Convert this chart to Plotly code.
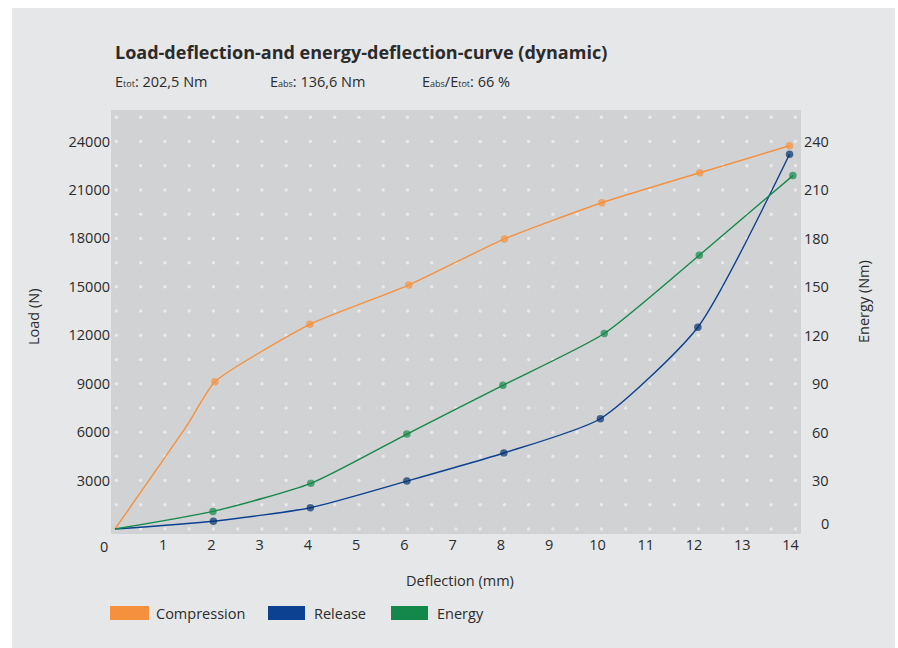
import numpy as np
import plotly.graph_objects as go

# ---------------- data ----------------
comp_x = [0, 1.49, 2.07, 4.04, 6.09, 8.07, 10.09, 12.12, 13.98]
comp_y = [0, 6400, 9120, 12680, 15110, 17970, 20210, 22070, 23740]
comp_marked = [0, 0, 1, 1, 1, 1, 1, 1, 1]

rel_x = [0, 2.04, 4.05, 6.05, 8.06, 10.06, 12.08, 13.98]
rel_y = [0, 480, 1320, 2970, 4710, 6830, 12500, 23210]
rel_marked = [0, 1, 1, 1, 1, 1, 1, 1]

en_x = [0, 2.03, 4.06, 6.05, 8.04, 10.14, 12.11, 14.05]
en_y = [0, 10.9, 28.3, 58.8, 89.0, 121.1, 169.6, 218.9]
en_marked = [0, 1, 1, 1, 1, 1, 1, 1]

x_ticks = list(range(1, 15))
load_ticks = [3000, 6000, 9000, 12000, 15000, 18000, 21000, 24000]
energy_ticks = [30, 60, 90, 120, 150, 180, 210, 240]

title_text = "Load-deflection-and energy-deflection-curve (dynamic)"
sub_texts = ["E<span style='font-size:9px'>tot</span>: 202,5 Nm",
             "E<span style='font-size:9px'>abs</span>: 136,6 Nm",
             "E<span style='font-size:9px'>abs</span>/E<span style='font-size:9px'>tot</span>: 66 %"]
legend_names = ["Compression", "Release", "Energy"]

# ---------------- styling ----------------
ORANGE = "#f5913e"
BLUE = "#0b4190"
BLUE_M = "#04306e"
GREEN = "#14884a"
TXT = "#2b2b2b"
FONT = "Open Sans"
PANEL = "#e6e7e9"
PLOTBG = "#d1d2d4"
FS = 14.5

W, H = 898, 648
L, R, T, B = 111, 801, 110, 534  # plot area in px


def px(xp):
    return (xp - L) / (R - L)


def py(yp):
    return (B - yp) / (B - T)


fig = go.Figure()

# background dot texture
dot_x = 0.03 + 0.5026 * np.arange(29)
dot_y = np.arange(0, 25501, 1500)
gx, gy = np.meshgrid(dot_x, dot_y)
fig.add_trace(go.Scatter(x=gx.ravel(), y=gy.ravel(), mode="markers",
                         marker=dict(size=3.5, color="#e9e9eb", line=dict(width=0)),
                         hoverinfo="skip", showlegend=False))


def sizes(flags, s):
    return [s if f else 0 for f in flags]


fig.add_trace(go.Scatter(x=comp_x, y=comp_y, mode="lines+markers", name=legend_names[0],
                         line=dict(color=ORANGE, width=1.4, shape="spline", smoothing=0.5),
                         marker=dict(color=ORANGE, size=sizes(comp_marked, 7.5), line=dict(width=0)),
                         showlegend=False))
fig.add_trace(go.Scatter(x=rel_x, y=rel_y, mode="lines+markers", name=legend_names[1],
                         line=dict(color=BLUE, width=1.4, shape="spline", smoothing=0.6),
                         marker=dict(color=BLUE_M, size=sizes(rel_marked, 7.5), line=dict(width=0)),
                         showlegend=False))
fig.add_trace(go.Scatter(x=en_x, y=en_y, mode="lines+markers", name=legend_names[2], yaxis="y2",
                         line=dict(color=GREEN, width=1.4, shape="spline", smoothing=0.6),
                         marker=dict(color=GREEN, size=sizes(en_marked, 7.5), line=dict(width=0)),
                         showlegend=False))

x_range = [-0.082, 14.218]
y_range = [-310, 25955]
y2_range = [y_range[0] / 100, y_range[1] / 100]

annotations = []
annotations.append(dict(text="<b>" + title_text + "</b>", x=px(113), y=py(52), xref="paper", yref="paper",
                        xanchor="left", yanchor="middle", showarrow=False,
                        font=dict(family=FONT, size=18, color=TXT)))
for t, xx in zip(sub_texts, [113, 268, 420]):
    annotations.append(dict(text=t, x=px(xx), y=py(82), xref="paper", yref="paper",
                            xanchor="left", yanchor="middle", showarrow=False,
                            font=dict(family=FONT, size=FS, color=TXT)))
annotations.append(dict(text="Load (N)", x=px(33), y=py(317), xref="paper", yref="paper",
                        textangle=-90, showarrow=False, xanchor="center", yanchor="middle",
                        font=dict(family=FONT, size=FS, color=TXT)))
annotations.append(dict(text="Energy (Nm)", x=px(863), y=py(302), xref="paper", yref="paper",
                        textangle=-90, showarrow=False, xanchor="center", yanchor="middle",
                        font=dict(family=FONT, size=FS, color=TXT)))
annotations.append(dict(text="Deflection (mm)", x=px(460), y=py(580), xref="paper", yref="paper",
                        showarrow=False, xanchor="center", yanchor="middle",
                        font=dict(family=FONT, size=FS, color=TXT)))
# x-axis "0" label (drawn slightly left as in the reference)
annotations.append(dict(text="0", x=px(104), y=py(546), xref="paper", yref="paper",
                        showarrow=False, xanchor="center", yanchor="middle",
                        font=dict(family=FONT, size=FS, color=TXT)))
# right axis labels, right aligned
for v in energy_ticks:
    annotations.append(dict(text=str(v), x=px(831), y=v, xref="paper", yref="y2",
                            showarrow=False, xanchor="right", yanchor="middle",
                            font=dict(family=FONT, size=FS, color=TXT)))
annotations.append(dict(text="0", x=px(831), y=0, xref="paper", yref="y2", yshift=6,
                        showarrow=False, xanchor="right", yanchor="middle",
                        font=dict(family=FONT, size=FS, color=TXT)))

shapes = []
# white strips outside the grey panel
shapes.append(dict(type="rect", xref="paper", yref="paper", x0=px(-5), x1=px(12), y0=py(700), y1=py(-5),
                   fillcolor="white", line=dict(width=0), layer="above"))
shapes.append(dict(type="rect", xref="paper", yref="paper", x0=px(-5), x1=px(905), y0=py(8), y1=py(-5),
                   fillcolor="white", line=dict(width=0), layer="above"))
shapes.append(dict(type="rect", xref="paper", yref="paper", x0=px(895), x1=px(905), y0=py(700), y1=py(-5),
                   fillcolor="white", line=dict(width=0), layer="above"))
# legend swatches + labels
leg_cols = [ORANGE, BLUE, GREEN]
leg_rects = [(110, 149), (268, 305), (391, 428)]
leg_txt_x = [154, 312, 435]
for c, (a, b), tx, name in zip(leg_cols, leg_rects, leg_txt_x, legend_names):
    shapes.append(dict(type="rect", xref="paper", yref="paper", x0=px(a), x1=px(b), y0=py(620), y1=py(606),
                       fillcolor=c, line=dict(width=0), layer="above"))
    annotations.append(dict(text=name, x=px(tx), y=py(613), xref="paper", yref="paper",
                            showarrow=False, xanchor="left", yanchor="middle",
                            font=dict(family=FONT, size=FS, color=TXT)))

fig.update_layout(
    width=W, height=H,
    margin=dict(l=L, r=W - R, t=T, b=H - B, pad=0),
    paper_bgcolor=PANEL, plot_bgcolor=PLOTBG,
    font=dict(family=FONT, size=FS, color=TXT),
    showlegend=False,
    hovermode=False,
    xaxis=dict(range=x_range, tickvals=x_ticks, showgrid=False, zeroline=False, showline=False,
               ticks="", tickfont=dict(family=FONT, size=FS, color=TXT), fixedrange=True),
    yaxis=dict(range=y_range, tickvals=load_ticks, tickformat="d", showgrid=False, zeroline=False,
               showline=False, ticks="", tickfont=dict(family=FONT, size=FS, color=TXT), fixedrange=True),
    yaxis2=dict(range=y2_range, overlaying="y", side="right", tickvals=energy_ticks,
                showticklabels=False, showgrid=False, zeroline=False, showline=False, ticks="",
                fixedrange=True),
    annotations=annotations,
    shapes=shapes,
)

fig.write_html("out.html", config={"displayModeBar": False},
               post_script="document.body.style.margin='0px';document.body.style.padding='0px';")
